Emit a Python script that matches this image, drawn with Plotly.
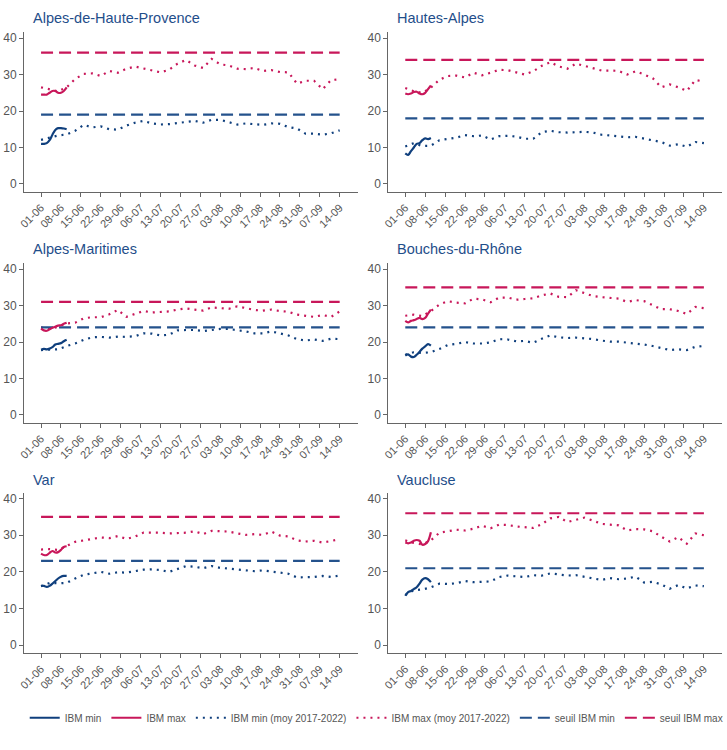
import datetime as dt
import plotly.graph_objects as go

# ---------------- data ----------------
departements = ["Alpes-de-Haute-Provence", "Hautes-Alpes", "Alpes-Maritimes",
                "Bouches-du-Rhône", "Var", "Vaucluse"]

start = dt.date(2023, 6, 1)
obs_days = list(range(0, 10))            # 01-06 .. 10-06
moy_days = list(range(0, 106, 3))        # 01-06 .. 14-09, every 3 days
tick_days = list(range(0, 106, 7))       # 01-06, 08-06, ... 14-09

ibm_min = {
    "Alpes-de-Haute-Provence": [11.0, 11.0, 11.2, 12.0, 13.5, 14.8, 15.3, 15.3, 15.2, 15.0],
    "Hautes-Alpes":            [8.4, 8.0, 9.0, 10.0, 11.0, 11.2, 12.0, 12.5, 12.3, 12.6],
    "Alpes-Maritimes":         [17.9, 18.1, 18.0, 18.2, 18.6, 19.3, 19.5, 19.7, 20.2, 20.6],
    "Bouches-du-Rhône":        [16.3, 16.6, 16.0, 15.9, 16.5, 17.3, 18.2, 18.8, 19.4, 19.0],
    "Var":                     [16.2, 16.2, 15.9, 16.2, 16.8, 17.5, 18.2, 18.7, 18.9, 18.9],
    "Vaucluse":                [13.5, 14.5, 14.8, 15.3, 15.8, 16.8, 17.9, 18.3, 18.0, 17.2],
}
ibm_max = {
    "Alpes-de-Haute-Provence": [24.5, 24.5, 24.5, 25.0, 25.5, 25.5, 25.0, 25.0, 25.5, 26.5],
    "Hautes-Alpes":            [24.8, 24.6, 24.8, 25.2, 25.3, 24.8, 24.6, 25.0, 26.0, 27.0],
    "Alpes-Maritimes":         [23.7, 23.2, 23.1, 23.5, 23.9, 24.2, 24.5, 24.6, 25.0, 25.3],
    "Bouches-du-Rhône":        [25.8, 25.4, 25.8, 26.0, 26.3, 26.6, 26.3, 26.6, 27.8, 28.9],
    "Var":                     [25.0, 24.6, 24.6, 25.2, 25.7, 25.3, 25.4, 26.0, 26.8, 27.0],
    "Vaucluse":                [28.0, 27.8, 28.0, 28.5, 28.7, 28.5, 27.4, 27.6, 28.4, 30.8],
}
moy_min = {
    "Alpes-de-Haute-Provence": [12.1, 12.8, 13.3, 13.6, 14.6, 16.2, 15.5, 15.8, 15.0, 14.9, 16.0, 16.8,
                                17.3, 16.6, 16.3, 16.4, 16.7, 16.8, 17.3, 16.8, 17.6, 17.6, 17.0, 16.3,
                                16.6, 16.5, 16.2, 16.6, 16.5, 15.6, 15.2, 13.8, 13.8, 13.5, 13.9, 14.7],
    "Hautes-Alpes":            [10.3, 11.2, 10.4, 10.5, 12.0, 12.3, 12.7, 13.4, 13.1, 13.3, 12.2, 13.1,
                                13.2, 13.0, 12.4, 12.4, 14.2, 14.6, 14.2, 14.1, 14.2, 14.3, 14.1, 13.5,
                                13.3, 13.0, 12.8, 12.9, 12.5, 12.0, 11.5, 10.5, 10.9, 10.2, 11.5, 11.2],
    "Alpes-Maritimes":         [17.8, 18.0, 18.0, 18.9, 19.6, 20.6, 21.3, 21.4, 21.2, 21.5, 21.4, 21.6,
                                22.4, 22.3, 21.8, 22.0, 23.2, 23.3, 23.3, 23.0, 23.4, 23.6, 23.6, 23.3,
                                22.9, 22.4, 22.4, 22.9, 22.3, 21.8, 20.8, 20.4, 20.7, 20.3, 20.9, 20.8],
    "Bouches-du-Rhône":        [16.5, 17.2, 17.0, 17.2, 18.1, 19.2, 19.5, 20.0, 19.6, 19.6, 19.9, 20.8,
                                20.7, 20.2, 20.3, 19.8, 20.9, 21.8, 21.3, 21.1, 21.2, 21.1, 20.8, 20.4,
                                20.1, 20.1, 19.9, 19.7, 19.3, 18.9, 18.3, 17.8, 18.0, 17.8, 18.7, 18.9],
    "Var":                     [16.1, 17.0, 16.9, 17.0, 18.2, 19.2, 19.6, 20.0, 19.5, 19.9, 19.8, 20.2,
                                20.6, 20.7, 20.5, 20.0, 20.9, 21.6, 21.4, 21.0, 21.6, 21.1, 20.9, 20.6,
                                20.4, 20.2, 20.4, 20.1, 19.7, 19.5, 18.5, 18.5, 18.6, 18.9, 18.6, 19.0],
    "Vaucluse":                [13.7, 15.0, 15.2, 15.8, 16.8, 16.7, 16.9, 17.5, 17.2, 17.3, 17.4, 18.6,
                                19.0, 18.8, 18.6, 19.1, 19.0, 19.6, 19.3, 19.0, 19.1, 18.6, 18.1, 17.8,
                                18.3, 18.0, 18.2, 18.7, 17.1, 17.3, 16.6, 15.4, 16.4, 15.5, 16.3, 16.1],
}
moy_max = {
    "Alpes-de-Haute-Provence": [26.5, 26.0, 25.4, 26.5, 28.8, 30.2, 30.3, 29.6, 31.0, 30.5, 31.6, 32.2,
                                31.7, 31.2, 30.6, 31.3, 33.0, 34.0, 32.5, 31.8, 34.3, 32.8, 32.5, 31.6,
                                31.5, 31.8, 31.0, 31.2, 30.7, 30.6, 27.5, 28.3, 28.3, 26.0, 28.5, 28.7],
    "Hautes-Alpes":            [26.3, 25.4, 25.0, 26.4, 28.6, 29.6, 29.7, 29.2, 30.5, 29.8, 30.5, 31.3,
                                31.2, 30.6, 30.0, 30.9, 32.4, 33.4, 32.2, 31.6, 33.0, 32.4, 31.8, 31.1,
                                31.1, 31.0, 30.0, 30.9, 30.0, 29.0, 26.5, 27.3, 26.5, 25.5, 28.5, 28.1],
    "Alpes-Maritimes":         [24.0, 23.6, 24.2, 25.1, 25.3, 26.5, 26.8, 26.8, 27.6, 28.8, 26.9, 27.8,
                                28.5, 28.1, 28.3, 28.4, 28.9, 29.2, 28.9, 28.6, 29.5, 29.4, 29.1, 29.8,
                                29.2, 28.8, 28.6, 28.9, 28.5, 28.3, 27.5, 27.1, 26.9, 27.4, 26.9, 28.4],
    "Bouches-du-Rhône":        [27.2, 27.5, 27.1, 28.5, 30.3, 31.2, 30.8, 30.6, 31.9, 31.7, 30.9, 32.2,
                                32.2, 31.6, 31.8, 32.0, 32.8, 33.3, 32.4, 32.3, 34.2, 33.3, 32.6, 32.3,
                                32.0, 31.9, 31.0, 31.5, 31.2, 30.2, 29.0, 29.0, 28.5, 27.7, 29.6, 29.3],
    "Var":                     [26.1, 26.2, 26.0, 27.0, 28.2, 28.6, 28.9, 29.4, 29.2, 29.8, 29.0, 29.6,
                                30.7, 30.8, 30.7, 30.5, 30.6, 30.7, 31.1, 30.3, 31.2, 31.2, 31.0, 30.5,
                                30.1, 30.3, 30.1, 31.0, 29.9, 29.7, 28.6, 28.3, 28.5, 28.0, 28.5, 28.9],
    "Vaucluse":                [28.6, 27.9, 27.5, 28.6, 30.7, 31.2, 31.5, 31.3, 31.8, 32.6, 31.9, 32.9,
                                32.8, 32.4, 32.2, 32.0, 33.0, 34.6, 35.0, 33.6, 34.2, 34.8, 34.0, 33.1,
                                32.9, 32.7, 31.3, 31.7, 31.6, 31.1, 29.6, 28.3, 29.5, 27.7, 30.5, 30.0],
}
seuil_min = {"Alpes-de-Haute-Provence": 19, "Hautes-Alpes": 18, "Alpes-Maritimes": 24,
             "Bouches-du-Rhône": 24, "Var": 23, "Vaucluse": 21}
seuil_max = {"Alpes-de-Haute-Provence": 36, "Hautes-Alpes": 34, "Alpes-Maritimes": 31,
             "Bouches-du-Rhône": 35, "Var": 35, "Vaucluse": 36}

y_ticks = [0, 10, 20, 30, 40]

# ---------------- style ----------------
BLUE = "#0f3f7d"
BLUE_D = "#24528c"
RED = "#c8175a"
GREY = "#555555"
FONT = "Liberation Sans, Arial, sans-serif"

def d(i):
    return (start + dt.timedelta(days=i)).isoformat()

obs_x = [d(i) for i in obs_days]
moy_x = [d(i) for i in moy_days]
seuil_x = [d(moy_days[0]), d(moy_days[-1])]
tick_x = [d(i) for i in tick_days]
tick_text = [(start + dt.timedelta(days=i)).strftime("%d-%m") for i in tick_days]

x_dom = [[0.033, 0.492], [0.534, 0.993]]
y_dom = [[0.744, 0.957], [0.436, 0.649], [0.129, 0.343]]
title_y = [0.976, 0.668, 0.360]
title_x = [0.042, 0.543]

fig = go.Figure()
layout = {}
annotations = []
rank = {"IBM min": 1, "IBM max": 2, "IBM min (moy 2017-2022)": 3,
        "IBM max (moy 2017-2022)": 4, "seuil IBM min": 5, "seuil IBM max": 6}

for k, dep in enumerate(departements):
    r, c = divmod(k, 2)
    ax = "" if k == 0 else str(k + 1)
    xa, ya = "x" + ax, "y" + ax
    first = (k == 0)
    specs = [
        (moy_x, moy_min[dep], "IBM min (moy 2017-2022)", BLUE, "2px,5px", 2.2, "linear"),
        (moy_x, moy_max[dep], "IBM max (moy 2017-2022)", RED, "2px,5px", 2.2, "linear"),
        (seuil_x, [seuil_min[dep]] * 2, "seuil IBM min", BLUE_D, "12px,6px", 2.2, "linear"),
        (seuil_x, [seuil_max[dep]] * 2, "seuil IBM max", RED, "12px,6px", 2.2, "linear"),
        (obs_x, ibm_min[dep], "IBM min", BLUE, "solid", 2.2, "spline"),
        (obs_x, ibm_max[dep], "IBM max", RED, "solid", 2.2, "spline"),
    ]
    for xs, ys, name, col, dash, w, shape in specs:
        fig.add_trace(go.Scatter(
            x=xs, y=ys, name=name, mode="lines", xaxis=xa, yaxis=ya,
            line=dict(color=col, dash=dash, width=w, shape=shape),
            showlegend=first, legendrank=rank[name], hoverinfo="skip"))
    layout["xaxis" + ax] = dict(
        domain=x_dom[c], anchor=ya, type="date", automargin=False,
        range=[d(-6), "2023-09-20 08:00"],
        tickmode="array", tickvals=tick_x, ticktext=tick_text, tickangle=-45,
        showgrid=False, zeroline=False, showline=True, linecolor="#666666", linewidth=1,
        ticks="outside", ticklen=4, tickcolor="#666666",
        tickfont=dict(size=11, color=GREY, family=FONT))
    layout["yaxis" + ax] = dict(
        domain=y_dom[r], anchor=xa, range=[-2.2, 41.6], automargin=False,
        tickmode="array", tickvals=y_ticks,
        showgrid=False, zeroline=False, showline=True, linecolor="#666666", linewidth=1,
        ticks="outside", ticklen=4, tickcolor="#666666",
        tickfont=dict(size=12, color=GREY, family=FONT))
    annotations.append(dict(
        text=dep, xref="paper", yref="paper", x=title_x[c], y=title_y[r],
        xanchor="left", yanchor="middle", showarrow=False,
        font=dict(size=14.5, color="#1f4e8a", family=FONT)))

fig.update_layout(
    **layout,
    annotations=annotations,
    width=727, height=750,
    margin=dict(l=0, r=0, t=0, b=0, autoexpand=False),
    paper_bgcolor="white", plot_bgcolor="white",
    font=dict(family=FONT, color=GREY),
    legend=dict(orientation="h", x=0.034, y=0.043, xanchor="left", yanchor="middle",
                font=dict(size=10, color=GREY, family=FONT),
                itemwidth=30, tracegroupgap=0, bgcolor="rgba(0,0,0,0)"),
)

fig.write_html("out.html", config={"displayModeBar": False},
               post_script="document.body.style.margin='0px';")
